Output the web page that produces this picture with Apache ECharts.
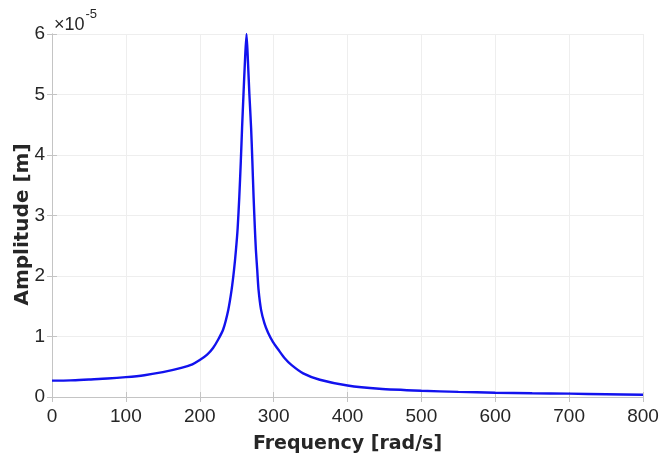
<!DOCTYPE html>
<html>
<head>
<meta charset="utf-8">
<script src="https://cdn.jsdelivr.net/npm/echarts@6/dist/echarts.min.js"></script>
<style>html,body{margin:0;padding:0;background:#fff}#c{width:661px;height:457px}</style>
</head>
<body>
<div id="c"></div>
<script>
// Frequency (rad/s) and amplitude (in units of 1e-5 m)
const freq = [0, 25, 50, 75, 100, 125, 150, 175, 190, 200, 210, 218, 225, 231.8, 238.6, 243.1, 246.4, 249.0, 251.3, 253.5, 255.6, 257.3, 259.2, 261.0, 263.3, 265.4, 267.2, 269.5, 271.2, 272.9, 274.6, 276.0, 277.8, 279.6, 283.0, 287.5, 292.5, 299, 306.5, 315, 324, 340, 362.5, 400, 443, 500, 550, 600, 650, 700, 750, 800];
const amp  = [0.27, 0.275, 0.29, 0.305, 0.328, 0.36, 0.41, 0.48, 0.54, 0.61, 0.70, 0.81, 0.95, 1.12, 1.44, 1.77, 2.10, 2.43, 2.79, 3.3, 3.9, 4.45, 5.0, 5.5, 6.0, 5.5, 5.0, 4.45, 3.9, 3.3, 2.79, 2.43, 2.10, 1.77, 1.44, 1.22, 1.06, 0.91, 0.78, 0.64, 0.53, 0.39, 0.285, 0.19, 0.137, 0.104, 0.085, 0.071, 0.062, 0.055, 0.046, 0.038];
const xTicks = [0, 100, 200, 300, 400, 500, 600, 700, 800];
const yTicks = [0, 1, 2, 3, 4, 5, 6];
const xTitle = 'Frequency [rad/s]';
const yTitle = 'Amplitude [m]';

const pts = freq.map((f, i) => [f, amp[i]]);
const axisCol = '#c4c4c4';
const gridCol = '#eeeeee';
const txtCol = '#262626';
const font = 'Liberation Sans, Arial, Helvetica, sans-serif';
const tfont = 'DejaVu Sans, sans-serif';

const chart = echarts.init(document.getElementById('c'), null, {renderer: 'canvas'});
chart.setOption({
  animation: false,
  backgroundColor: '#fff',
  grid: {left: 52, right: 18, top: 34, bottom: 60, containLabel: false, outerBoundsMode: 'none'},
  xAxis: [{
    type: 'value', min: xTicks[0], max: xTicks[xTicks.length - 1], interval: 100,
    name: xTitle, nameLocation: 'middle', nameGap: 38, nameMoveOverlap: false,
    nameTextStyle: {fontFamily: tfont, fontSize: 19, fontWeight: 'bold', color: txtCol},
    axisLine: {show: true, lineStyle: {color: axisCol, width: 1}},
    axisTick: {show: true, inside: true, length: 5, lineStyle: {color: axisCol}},
    axisLabel: {fontFamily: font, fontSize: 19, color: txtCol, margin: 10},
    splitLine: {show: true, lineStyle: {color: gridCol, width: 1}}
  }, {
    type: 'value', position: 'top', min: xTicks[0], max: xTicks[xTicks.length - 1], interval: 100,
    axisLine: {show: true, lineStyle: {color: axisCol, width: 1}},
    axisTick: {show: true, inside: true, length: 5, lineStyle: {color: axisCol}},
    axisLabel: {show: false}, splitLine: {show: false}
  }],
  yAxis: [{
    type: 'value', min: yTicks[0], max: yTicks[yTicks.length - 1], interval: 1,
    name: yTitle, nameLocation: 'middle', nameGap: 19, nameRotate: 90, nameMoveOverlap: false,
    nameTextStyle: {fontFamily: tfont, fontSize: 20, fontWeight: 'bold', color: txtCol, padding: [0, 18, 0, 0]},
    axisLine: {show: true, lineStyle: {color: axisCol, width: 1}},
    axisTick: {show: true, inside: true, length: 5, lineStyle: {color: axisCol}},
    axisLabel: {fontFamily: font, fontSize: 19, color: txtCol, margin: 7},
    splitLine: {show: true, lineStyle: {color: gridCol, width: 1}}
  }, {
    type: 'value', position: 'right', min: yTicks[0], max: yTicks[yTicks.length - 1], interval: 1,
    axisLine: {show: true, lineStyle: {color: axisCol, width: 1}},
    axisTick: {show: true, inside: true, length: 5, lineStyle: {color: axisCol}},
    axisLabel: {show: false}, splitLine: {show: false}
  }],
  graphic: [{
    type: 'text', left: 54, top: 8,
    style: {
      text: '{a|×10}{b|-5}',
      rich: {
        a: {fontFamily: font, fontSize: 18, fill: txtCol, verticalAlign: 'bottom', lineHeight: 26},
        b: {fontFamily: font, fontSize: 13, fill: txtCol, verticalAlign: 'top', lineHeight: 26, padding: [0, 0, 10, 1]}
      }
    }
  }],
  series: [{
    type: 'line', data: pts, xAxisIndex: 0, yAxisIndex: 0,
    showSymbol: false, smooth: 0.25,
    lineStyle: {color: '#1212ee', width: 2.4},
    z: 5
  }]
});
</script>
</body>
</html>
